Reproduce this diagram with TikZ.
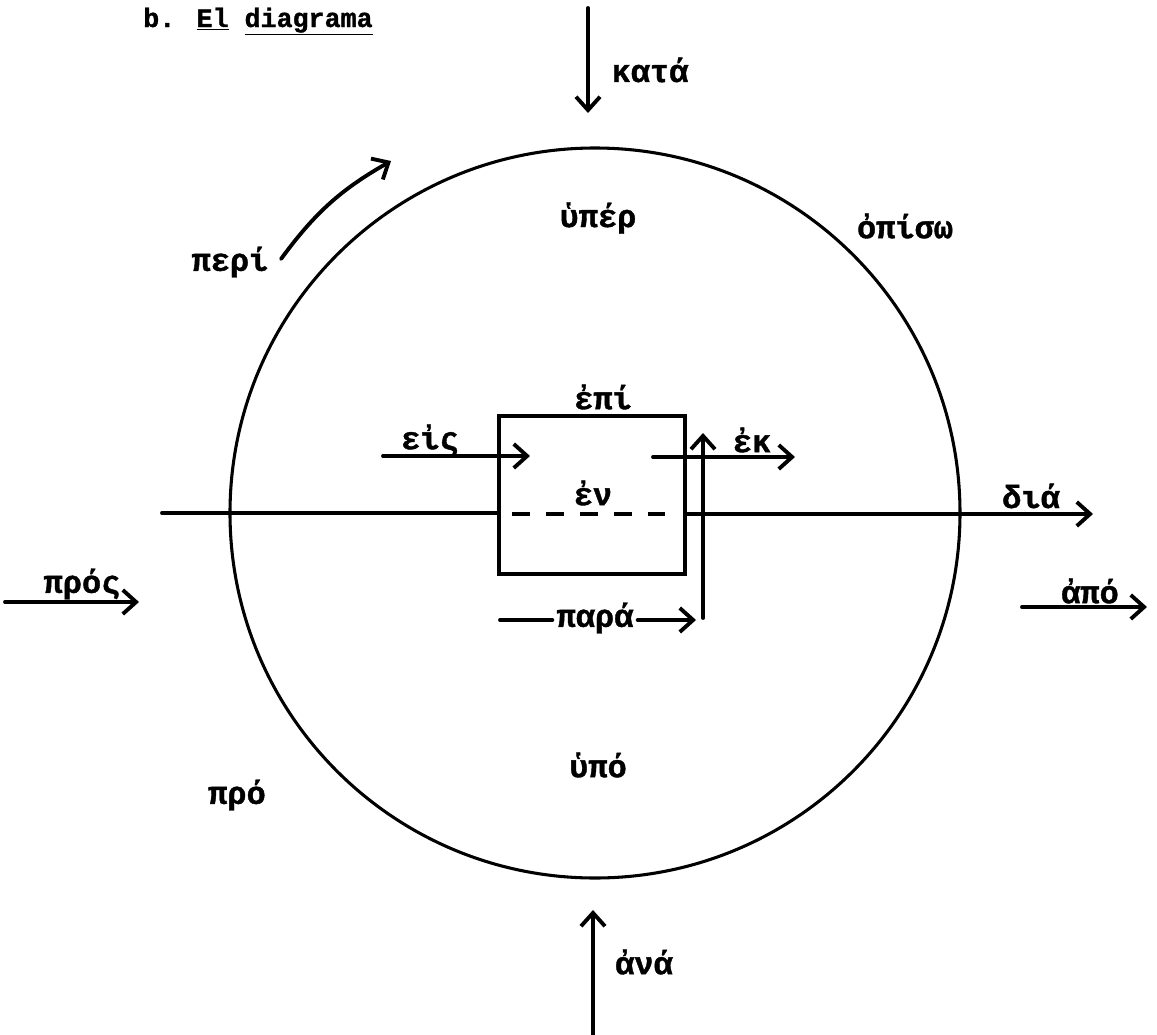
\documentclass[tikz,border=0pt]{standalone}
\usepackage{fontspec}
\newfontfamily\tw{Liberation Mono}[BoldFont={Liberation Mono Bold},BoldFeatures={FakeBold=1.2}]
\usetikzlibrary{arrows.meta}
\begin{document}
\begin{tikzpicture}[x=0.75pt,y=-0.75pt,
  ln/.style={line width=2.9pt,line cap=round},
  arr/.style={ln,-{Straight Barb[length=10pt,width=18pt,line width=2.9pt]}},
  lbl/.style={font=\tw\bfseries\fontsize{24}{26}\selectfont,inner sep=1pt},
  ttl/.style={font=\tw\bfseries\fontsize{20}{22}\selectfont,inner sep=0pt}]
\path[use as bounding box] (0,0) rectangle (1157,1035);
% title
\node[ttl,anchor=base west] (title) at (143,27) {b. \underline{El} \underline{diagrama}};
% circle
\node[draw,circle,line width=2.3pt,minimum size=730*0.75pt,inner sep=0pt] (circ) at (595,513) {};
% box
\node[draw,line width=2.8pt,minimum width=186*0.75pt,minimum height=158*0.75pt,inner sep=0pt] (box) at (592,495) {};
% labels
\node[lbl] (kata) at (650,70) {κατά};
\node[lbl] (ana) at (644,962) {ἀνά};
\node[lbl] (peri) at (230,262) {περί};
\node[lbl] (hyper) at (598,218) {ὑπέρ};
\node[lbl] (opiso) at (905,226) {ὀπίσω};
\node[lbl] (epi) at (603,397) {ἐπί};
\node[lbl] (eis) at (430,440) {εἰς};
\node[lbl] (ek) at (752,440) {ἐκ};
\node[lbl] (en) at (593,493) {ἐν};
\node[lbl] (dia) at (1031,496) {διά};
\node[lbl] (apo) at (1090,591) {ἀπό};
\node[lbl] (pros) at (82,584) {πρός};
\node[lbl,fill=white,inner sep=3pt] (para) at (595,618) {παρά};
\node[lbl] (hypo) at (598,765) {ὑπό};
\node[lbl] (pro) at (237,795) {πρό};
% coordinates
\coordinate (k1) at (588,8);
\coordinate (k2) at (588,113);
\coordinate (a1) at (593,1035);
\coordinate (a2) at (593,910);
\coordinate (p1) at (281,259);
\coordinate (p2) at (391,161);
\coordinate (e1) at (383,456);
\coordinate (e2) at (530,456);
\coordinate (x1) at (653,457);
\coordinate (x2) at (795,457);
\coordinate (d0) at (162,513);
\coordinate (d1) at (499,513);
\coordinate (d2) at (512,514);
\coordinate (d3) at (665,514);
\coordinate (d4) at (685,514);
\coordinate (d5) at (1093,514);
\coordinate (r1) at (5,602);
\coordinate (r2) at (139,602);
\coordinate (s1) at (1022,607);
\coordinate (s2) at (1147,607);
\coordinate (v1) at (703,618);
\coordinate (v2) at (703,433);
\coordinate (q1) at (500,620);
\coordinate (q2) at (696,620);
% arrows
\draw[arr] (k1) -- (k2);
\draw[arr] (a1) -- (a2);
\draw[arr] (p1) to[bend left=12] (p2);
\draw[arr] (e1) -- (e2);
\draw[arr] (x1) -- (x2);
\draw[ln] (d0) -- (d1);
\draw[ln,dash pattern=on 13.5pt off 12pt,line cap=butt] (d2) -- (d3);
\draw[arr] (d4) -- (d5);
\draw[arr] (r1) -- (r2);
\draw[arr] (s1) -- (s2);
\draw[arr] (v1) -- (v2);
\draw[ln] (q1) -- (q1 -| para.west);
\draw[arr] (para.east |- q2) -- (q2);
\end{tikzpicture}
\end{document}
